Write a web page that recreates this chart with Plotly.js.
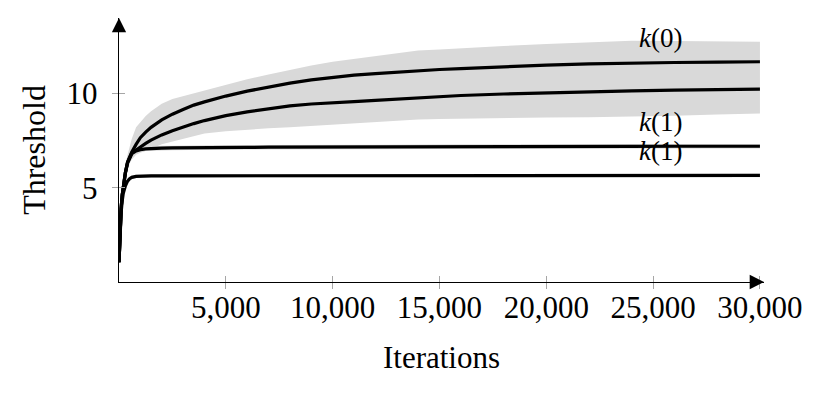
<!DOCTYPE html>
<html>
<head>
<meta charset="utf-8">
<script src="https://cdn.plot.ly/plotly-3.0.1.min.js"></script>
<style>
  html, body { margin: 0; padding: 0; background: #fff; }
  #myPlot { width: 832px; height: 396px; }
</style>
</head>
<body>
<div id="myPlot"></div>
<script>
var iters = [0, 50, 100, 150, 200, 300, 400, 500, 600, 800, 1000, 1250, 1500, 2000, 2500, 3000, 3500, 4000,
    5000, 6000, 7000, 8000, 9000, 10000, 11000, 12000, 13000, 14000, 15000, 16000, 18000, 20000,
    22000, 24000, 26000, 28000, 30000];

// k(0) runs (two mean curves) and their shared grey range
var k0Top = [1.05, 2.7, 3.9, 4.6, 5.1, 5.8, 6.35, 6.65, 6.9, 7.3, 7.65, 7.95, 8.2, 8.6, 8.9, 9.15, 9.38, 9.55,
    9.86, 10.12, 10.35, 10.55, 10.72, 10.86, 10.97, 11.05, 11.13, 11.2, 11.27, 11.32, 11.42, 11.5,
    11.57, 11.62, 11.64, 11.66, 11.68];
var k0Bottom = [1.05, 2.7, 3.9, 4.6, 5.1, 5.8, 6.35, 6.65, 6.85, 7.0, 7.17, 7.35, 7.52, 7.8, 8.02, 8.22, 8.4, 8.56,
    8.82, 9.02, 9.2, 9.34, 9.44, 9.52, 9.57, 9.63, 9.7, 9.77, 9.84, 9.89, 9.97, 10.04,
    10.1, 10.14, 10.18, 10.21, 10.23];
var k0BandHi = [1.1, 2.9, 4.2, 5.0, 5.5, 6.2, 6.75, 7.2, 7.6, 8.2, 8.45, 8.8, 9.05, 9.45, 9.7, 9.85, 10.0, 10.17,
    10.48, 10.75, 11.0, 11.25, 11.48, 11.68, 11.83, 11.97, 12.1, 12.27, 12.33, 12.4, 12.52, 12.62,
    12.72, 12.8, 12.78, 12.76, 12.74];
var k0BandLo = [1.0, 2.4, 3.5, 4.2, 4.7, 5.4, 5.9, 6.3, 6.5, 6.75, 6.85, 6.95, 7.05, 7.3, 7.45, 7.6, 7.75, 7.87,
    8.0, 8.08, 8.15, 8.2, 8.27, 8.32, 8.38, 8.45, 8.52, 8.62, 8.65, 8.67, 8.7, 8.72,
    8.74, 8.77, 8.82, 8.88, 8.94];

// k(1) runs
var k1Top = [1.05, 2.7, 3.9, 4.6, 5.1, 5.8, 6.3, 6.6, 6.8, 6.95, 7.02, 7.06, 7.08, 7.1, 7.11, 7.12, 7.13, 7.13,
    7.14, 7.14, 7.15, 7.15, 7.15, 7.16, 7.16, 7.16, 7.17, 7.17, 7.17, 7.18, 7.18, 7.18,
    7.19, 7.19, 7.2, 7.2, 7.2];
var k1TopHi = [1.1, 2.9, 4.2, 4.9, 5.4, 6.05, 6.55, 6.85, 7.0, 7.12, 7.16, 7.18, 7.2, 7.22, 7.23, 7.24, 7.25, 7.25,
    7.26, 7.26, 7.27, 7.27, 7.27, 7.28, 7.28, 7.28, 7.29, 7.29, 7.29, 7.3, 7.3, 7.3,
    7.31, 7.31, 7.32, 7.32, 7.32];
var k1TopLo = [1.0, 2.5, 3.6, 4.3, 4.8, 5.5, 6.0, 6.35, 6.6, 6.8, 6.9, 6.95, 6.97, 6.98, 6.99, 7.0, 7.01, 7.01,
    7.02, 7.02, 7.03, 7.03, 7.03, 7.04, 7.04, 7.04, 7.05, 7.05, 7.05, 7.06, 7.06, 7.06,
    7.07, 7.07, 7.08, 7.08, 7.08];
var k1Bottom = [1.05, 2.6, 3.7, 4.3, 4.7, 5.1, 5.35, 5.48, 5.55, 5.6, 5.62, 5.62, 5.63, 5.63, 5.63, 5.63, 5.63, 5.63,
    5.63, 5.63, 5.63, 5.63, 5.63, 5.63, 5.63, 5.64, 5.64, 5.64, 5.64, 5.64, 5.64, 5.64,
    5.64, 5.65, 5.65, 5.65, 5.65];
var k1BottomHi = [1.1, 2.8, 3.9, 4.5, 4.9, 5.3, 5.5, 5.6, 5.65, 5.69, 5.71, 5.71, 5.72, 5.72, 5.72, 5.72, 5.72, 5.72,
    5.72, 5.72, 5.72, 5.72, 5.72, 5.72, 5.72, 5.73, 5.73, 5.73, 5.73, 5.73, 5.73, 5.73,
    5.73, 5.74, 5.74, 5.74, 5.74];
var k1BottomLo = [1.0, 2.4, 3.5, 4.1, 4.5, 4.9, 5.2, 5.36, 5.45, 5.51, 5.53, 5.53, 5.54, 5.54, 5.54, 5.54, 5.54, 5.54,
    5.54, 5.54, 5.54, 5.54, 5.54, 5.54, 5.54, 5.55, 5.55, 5.55, 5.55, 5.55, 5.55, 5.55,
    5.55, 5.56, 5.56, 5.56, 5.56];

// ticks and curve labels
var xTickVals = [5000, 10000, 15000, 20000, 25000, 30000];
var xTickText = ['5,000', '10,000', '15,000', '20,000', '25,000', '30,000'];
var yTickVals = [5, 10];
var yTickText = ['5', '10'];
var labelText = ['<i>k</i>(0)', '<i>k</i>(1)', '<i>k</i>(1)'];
var labelX = [25330, 25330, 25330];
var labelY = [12.93, 8.49, 6.95];

var serif = 'Liberation Serif, Times New Roman, serif';
var bandColor = '#d9d9d9';

function band(lo, hi) {
    return [
        {x: iters, y: lo, mode: 'lines', line: {width: 0}, hoverinfo: 'skip', showlegend: false},
        {x: iters, y: hi, mode: 'lines', line: {width: 0}, fill: 'tonexty', fillcolor: bandColor,
         hoverinfo: 'skip', showlegend: false}
    ];
}

function curve(y) {
    return {x: iters, y: y, mode: 'lines', line: {color: 'black', width: 3.2}, showlegend: false};
}

var data = [].concat(
    band(k0BandLo, k0BandHi),
    band(k1TopLo, k1TopHi),
    band(k1BottomLo, k1BottomHi),
    [curve(k0Top), curve(k0Bottom), curve(k1Top), curve(k1Bottom)],
    // empty trace so the inner tick axes get drawn
    [{x: [], y: [], xaxis: 'x2', yaxis: 'y2', showlegend: false}]
);

var annotations = labelText.map(function (t, i) {
    return {x: labelX[i], y: labelY[i], text: t, showarrow: false,
            font: {family: serif, size: 27, color: 'black'}};
});
// axis arrow heads
annotations.push({x: 1, y: 0, xref: 'paper', yref: 'paper', ax: -14, ay: 0, text: '',
    showarrow: true, arrowhead: 2, arrowsize: 2.2, arrowwidth: 1.3, arrowcolor: 'black'});
annotations.push({x: 0, y: 1, xref: 'paper', yref: 'paper', ax: 0, ay: 14, text: '',
    showarrow: true, arrowhead: 2, arrowsize: 2.2, arrowwidth: 1.3, arrowcolor: 'black'});

var tickFont = {family: serif, size: 31, color: 'black'};

var layout = {
    width: 832, height: 396,
    margin: {l: 119, r: 68, t: 18, b: 114},
    paper_bgcolor: 'white', plot_bgcolor: 'white',
    showlegend: false,
    xaxis: {
        range: [0, 30190], showgrid: false, zeroline: false,
        showline: true, linecolor: 'black', linewidth: 1.3,
        tickmode: 'array', tickvals: xTickVals, ticktext: xTickText,
        ticks: 'outside', ticklen: 6, tickwidth: 1, tickcolor: '#a6a6a6',
        tickfont: tickFont, ticklabelstandoff: -9,
        title: {text: 'Iterations', font: {family: serif, size: 31, color: 'black'}, standoff: 22}
    },
    yaxis: {
        range: [0, 14], showgrid: false, zeroline: false,
        showline: true, linecolor: 'black', linewidth: 1.3,
        tickmode: 'array', tickvals: yTickVals, ticktext: yTickText,
        ticks: 'outside', ticklen: 6, tickwidth: 1, tickcolor: '#a6a6a6',
        tickfont: tickFont, ticklabelstandoff: 8,
        title: {text: 'Threshold', font: {family: serif, size: 32, color: 'black'}, standoff: 11}
    },
    xaxis2: {
        overlaying: 'x', anchor: 'y2', range: [0, 30190], showgrid: false, zeroline: false,
        showline: false, tickmode: 'array', tickvals: xTickVals, showticklabels: false,
        ticks: 'inside', ticklen: 6, tickwidth: 1, tickcolor: '#a6a6a6'
    },
    yaxis2: {
        overlaying: 'y', anchor: 'x2', range: [0, 14], showgrid: false, zeroline: false,
        showline: false, tickmode: 'array', tickvals: yTickVals, showticklabels: false,
        ticks: 'inside', ticklen: 6, tickwidth: 1, tickcolor: '#a6a6a6'
    },
    annotations: annotations
};

Plotly.newPlot('myPlot', data, layout, {staticPlot: true, displayModeBar: false});
</script>
</body>
</html>
